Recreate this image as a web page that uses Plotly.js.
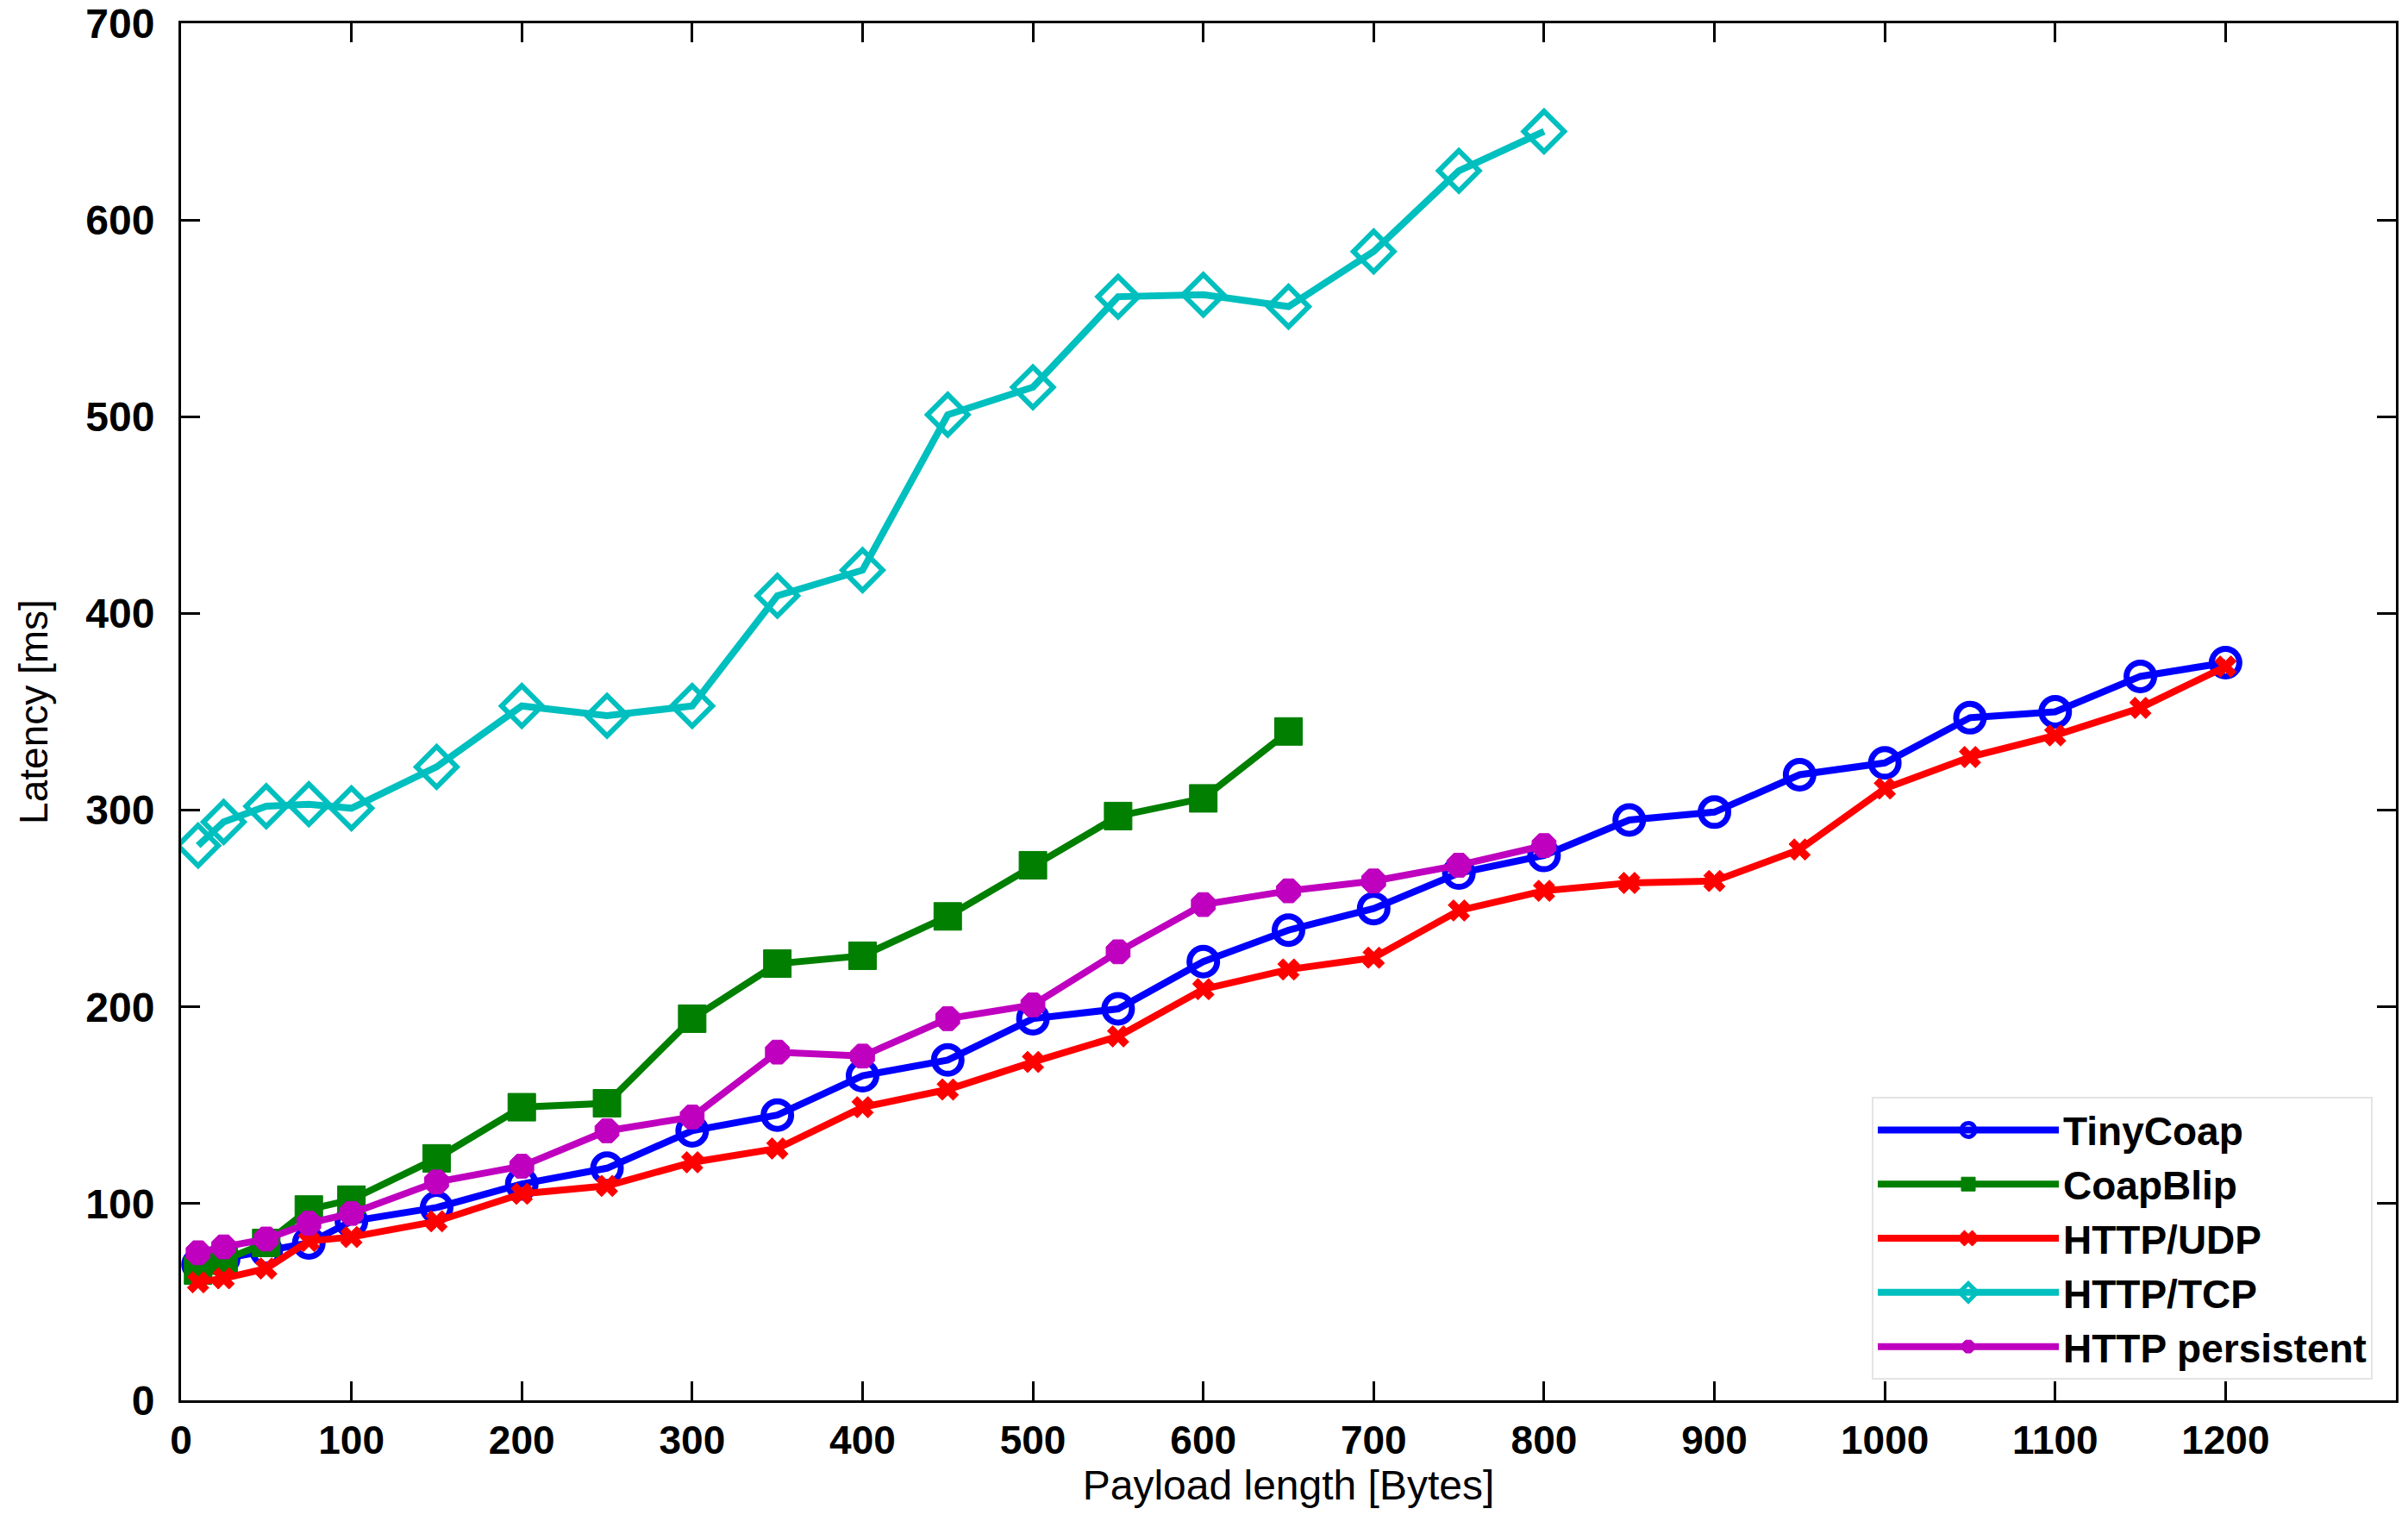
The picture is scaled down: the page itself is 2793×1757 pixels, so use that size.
<!DOCTYPE html>
<html>
<head>
<meta charset="utf-8">
<script src="https://cdn.plot.ly/plotly-3.0.1.min.js"></script>
<style>
  html, body { margin: 0; padding: 0; background: #fff; }
  #graph { width: 2793px; height: 1757px; }
</style>
</head>
<body>
<div id="graph"></div>
<script>
//payload lengths (bytes) measured for each protocol
const payloadTinyCoap = [10, 25, 50, 75, 100, 150, 200, 250, 300, 350, 400, 450, 500, 550, 600, 650, 700, 750, 800, 850, 900, 950, 1000, 1050, 1100, 1150, 1200]
const payloadCoapBlip = [10, 25, 50, 75, 100, 150, 200, 250, 300, 350, 400, 450, 500, 550, 600, 650]
const payloadHttpUdp = [10, 25, 50, 75, 100, 150, 200, 250, 300, 350, 400, 450, 500, 550, 600, 650, 700, 750, 800, 850, 900, 950, 1000, 1050, 1100, 1150, 1200]
const payloadHttpTcp = [10, 25, 50, 75, 100, 150, 200, 250, 300, 350, 400, 450, 500, 550, 600, 650, 700, 750, 800]
const payloadHttpPersistent = [10, 25, 50, 75, 100, 150, 200, 250, 300, 350, 400, 450, 500, 550, 600, 650, 700, 750, 800]

//latency values (ms)
const latencyTinyCoap = [69, 72, 76, 80, 91, 98, 110, 118, 137, 145, 165, 173, 194, 199, 223, 239, 250, 268, 277, 295, 299, 318, 324, 347, 350, 368, 375]
const latencyCoapBlip = [66, 71, 80, 97, 102, 123, 149, 151, 194, 222, 226, 246, 272, 297, 306, 340]
const latencyHttpUdp = [60, 62, 67, 81, 83, 91, 105, 109, 121, 128, 149, 158, 172, 185, 209, 219, 225, 249, 259, 263, 264, 280, 311, 327, 338, 352, 373]
const latencyHttpTcp = [282, 294, 302, 303, 301, 322, 353, 348, 353, 409, 422, 501, 515, 561, 562, 556, 584, 625, 645]
const latencyHttpPersistent = [75, 78, 82, 90, 95, 111, 119, 137, 144, 177, 175, 194, 201, 228, 252, 259, 264, 272, 282]

//tick labels
const xTicks = [0, 100, 200, 300, 400, 500, 600, 700, 800, 900, 1000, 1100, 1200]
const yTicks = [0, 100, 200, 300, 400, 500, 600, 700]

const fontFamily = '"Liberation Sans", Arial, Helvetica, sans-serif'

//build one trace (open symbols take their stroke colour from marker.color)
function makeTrace(name, x, y, color, symbol, size, markerLine) {
  return {
    x: x,
    y: y,
    name: name,
    type: 'scatter',
    mode: 'lines+markers',
    line: {color: color, width: 8},
    marker: {
      symbol: symbol,
      size: size,
      color: color,
      line: {color: color, width: markerLine}
    }
  }
}

const data = [
  makeTrace('TinyCoap', payloadTinyCoap, latencyTinyCoap, '#0000ff', 'circle-open', 32, 7),
  makeTrace('CoapBlip', payloadCoapBlip, latencyCoapBlip, '#007f00', 'square', 32, 1),
  makeTrace('HTTP/UDP', payloadHttpUdp, latencyHttpUdp, '#ff0000', 'x', 22, 1),
  makeTrace('HTTP/TCP', payloadHttpTcp, latencyHttpTcp, '#00bfbf', 'diamond-open', 36, 6),
  makeTrace('HTTP persistent', payloadHttpPersistent, latencyHttpPersistent, '#bf00bf', 'octagon', 30, 1)
]

const layout = {
  width: 2793,
  height: 1757,
  paper_bgcolor: '#ffffff',
  plot_bgcolor: '#ffffff',
  margin: {l: 210, r: 14, t: 27, b: 133, pad: 0},
  font: {family: fontFamily, color: '#000000'},
  showlegend: true,
  legend: {
    x: 0.9895,
    y: 0.015,
    xanchor: 'right',
    yanchor: 'bottom',
    bgcolor: '#ffffff',
    bordercolor: '#e4e4e4',
    borderwidth: 2,
    itemwidth: 210,
    font: {family: fontFamily, size: 46, weight: 'bold', color: '#000000'}
  },
  xaxis: {
    range: [0, 1300],
    tickvals: xTicks,
    ticktext: xTicks.map(String),
    ticks: 'inside',
    ticklen: 22,
    tickwidth: 3,
    tickcolor: '#000000',
    ticklabelstandoff: 4,
    ticklabeloverflow: 'allow',
    showline: true,
    linewidth: 3,
    linecolor: '#000000',
    mirror: 'ticks',
    showgrid: false,
    zeroline: false,
    tickfont: {family: fontFamily, size: 46, weight: 'bold'},
    title: {
      text: 'Payload length [Bytes]',
      standoff: 10,
      font: {family: fontFamily, size: 48}
    }
  },
  yaxis: {
    range: [0, 700],
    tickvals: yTicks,
    ticktext: yTicks.map(String),
    ticks: 'inside',
    ticklen: 22,
    tickwidth: 3,
    tickcolor: '#000000',
    ticklabelstandoff: 18,
    ticklabeloverflow: 'allow',
    showline: true,
    linewidth: 3,
    linecolor: '#000000',
    mirror: 'ticks',
    showgrid: false,
    zeroline: false,
    tickfont: {family: fontFamily, size: 48, weight: 'bold'},
    title: {
      text: 'Latency [ms]',
      standoff: 30,
      font: {family: fontFamily, size: 46}
    }
  }
}

const config = {displayModeBar: false, responsive: false}

Plotly.newPlot(document.getElementById('graph'), data, layout, config)
</script>
</body>
</html>
